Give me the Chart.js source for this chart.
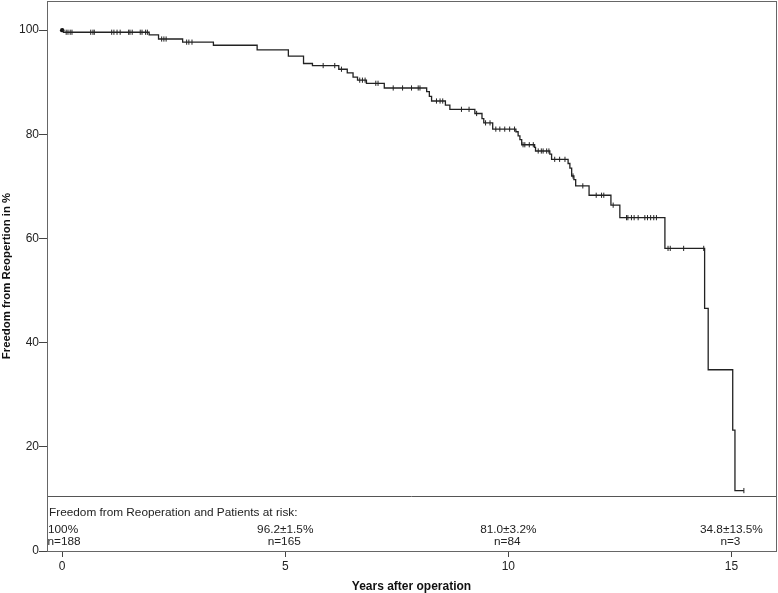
<!DOCTYPE html>
<html>
<head>
<meta charset="utf-8">
<script src="https://cdn.jsdelivr.net/npm/chart.js@4.4.1/dist/chart.umd.min.js"></script>
<style>
  html, body { margin: 0; padding: 0; background: #fff; }
  #wrap { width: 778px; height: 593px; }
</style>
</head>
<body>
<div id="wrap"><canvas id="km" width="778" height="593"></canvas></div>
<script>
// Kaplan-Meier step curve: time (years) and freedom from reoperation (%) after each event
var years = [0, 0.03, 1.95, 2.16, 2.70, 3.39, 4.37, 5.07, 5.41, 5.61, 6.20, 6.39, 6.52, 6.62, 6.82, 7.22,
  8.17, 8.23, 8.28, 8.59, 8.69, 9.25, 9.41, 9.45, 9.65, 10.17, 10.22, 10.26, 10.30, 10.59, 10.61,
  10.93, 10.97, 11.34, 11.38, 11.42, 11.47, 11.51, 11.81, 12.30, 12.50, 13.51, 14.40, 14.48,
  15.03, 15.08, 15.28];
var freedom = [100, 99.6, 99.1, 98.3, 97.7, 97.1, 96.2, 95.0, 93.6, 93.2, 92.5, 91.8, 91.0, 90.4, 89.8, 88.9,
  88.2, 87.3, 86.4, 85.6, 84.8, 84.0, 83.0, 82.2, 81.0, 80.5, 79.7, 79.0, 78.0, 77.5, 76.8,
  76.2, 75.2, 74.4, 73.5, 72.0, 71.3, 70.1, 68.3, 66.4, 64.0, 58.1, 46.6, 34.8,
  23.2, 11.6, 11.6];

// censored patients
var censorYears = [0.09, 0.13, 0.18, 0.22, 0.64, 0.69, 0.72, 1.11, 1.16, 1.23, 1.30, 1.49, 1.52, 1.57, 1.75, 1.79, 1.87, 1.91,
  2.23, 2.28, 2.33, 2.79, 2.84, 2.91, 5.85, 6.11, 6.26, 6.67, 6.73, 6.79, 7.03, 7.08,
  7.42, 7.63, 7.83, 7.98, 8.02, 8.39, 8.47, 8.53, 8.95, 9.12, 9.29, 9.49, 9.59,
  9.72, 9.81, 9.92, 10.03, 10.14, 10.33, 10.37, 10.47, 10.56, 10.67, 10.74, 10.78, 10.86, 10.91,
  11.04, 11.15, 11.27, 11.45, 11.67, 11.97, 12.09, 12.14, 12.35,
  12.65, 12.68, 12.76, 12.82, 12.91, 13.06, 13.12, 13.19, 13.26, 13.32,
  13.58, 13.63, 13.93, 14.38, 15.28];
var censorFreedom = [99.6, 99.6, 99.6, 99.6, 99.6, 99.6, 99.6, 99.6, 99.6, 99.6, 99.6, 99.6, 99.6, 99.6, 99.6, 99.6, 99.6, 99.6,
  98.3, 98.3, 98.3, 97.7, 97.7, 97.7, 93.2, 93.2, 92.5, 90.4, 90.4, 90.4, 89.8, 89.8,
  88.9, 88.9, 88.9, 88.9, 88.9, 86.4, 86.4, 86.4, 84.8, 84.8, 84.0, 82.2, 82.2,
  81.0, 81.0, 81.0, 81.0, 81.0, 78.0, 78.0, 78.0, 78.0, 76.8, 76.8, 76.8, 76.8, 76.8,
  75.2, 75.2, 75.2, 72.0, 70.1, 68.3, 68.3, 68.3, 66.4,
  64.0, 64.0, 64.0, 64.0, 64.0, 64.0, 64.0, 64.0, 64.0, 64.0,
  58.1, 58.1, 58.1, 58.1, 11.6];

var xTickValues = [0, 5, 10, 15];
var yTickValues = [0, 20, 40, 60, 80, 100];

// patients at risk table
var tableTitle = 'Freedom from Reoperation and Patients at risk:';
var riskYears = [0, 5, 10, 15];
var riskFreedom = ['100%', '96.2\u00b11.5%', '81.0\u00b13.2%', '34.8\u00b113.5%'];
var riskN = ['n=188', 'n=165', 'n=84', 'n=3'];

var curve = years.map(function(t, i){ return {x: t, y: freedom[i]}; });
var censored = censorYears.map(function(t, i){ return {x: t, y: censorFreedom[i]}; });

var FONT = '"Liberation Sans", Arial, sans-serif';

var riskTable = {
  id: 'riskTable',
  afterDraw: function(chart){
    var ctx = chart.ctx, a = chart.chartArea;
    var xs = chart.scales.x, ys = chart.scales.y;
    var lineY = Math.round(ys.getPixelForValue(10.6)) + 0.5;
    ctx.save();
    ctx.strokeStyle = '#555';
    ctx.lineWidth = 1;
    ctx.beginPath();
    ctx.moveTo(a.left, lineY);
    ctx.lineTo(a.right, lineY);
    ctx.stroke();
    // frame
    ctx.strokeStyle = '#666';
    ctx.strokeRect(Math.round(a.left) + 0.5, Math.round(a.top) + 0.5, Math.round(a.right - a.left), Math.round(a.bottom - a.top));

    ctx.fillStyle = '#222';
    ctx.font = '11.8px ' + FONT;
    ctx.textBaseline = 'middle';
    ctx.textAlign = 'left';
    ctx.fillText(tableTitle, a.left + 2, lineY + 16);
    riskYears.forEach(function(t, i){
      var px = xs.getPixelForValue(t);
      if (i === 0) {
        ctx.textAlign = 'left';
        ctx.fillText(riskFreedom[i], a.left + 1, lineY + 33);
        ctx.fillText(riskN[i], a.left + 0.5, lineY + 45);
      } else {
        ctx.textAlign = 'center';
        ctx.fillText(riskFreedom[i], px, lineY + 33);
        ctx.fillText(riskN[i], px - 1, lineY + 45);
      }
    });
    ctx.restore();
  }
};

new Chart(document.getElementById('km'), {
  type: 'scatter',
  data: {
    datasets: [
      {
        data: curve,
        showLine: true,
        stepped: true,
        borderColor: '#222',
        borderWidth: 1.3,
        pointRadius: 0,
        fill: false
      },
      {
        data: censored,
        showLine: false,
        pointStyle: 'line',
        rotation: 90,
        pointRadius: 2.6,
        borderColor: '#222',
        borderWidth: 1,
        pointHoverRadius: 0
      },
      {
        data: [{x: 0, y: 100}],
        showLine: false,
        pointStyle: 'circle',
        pointRadius: 2.2,
        backgroundColor: '#111',
        borderColor: '#111',
        borderWidth: 0
      }
    ]
  },
  options: {
    responsive: false,
    animation: false,
    events: [],
    layout: { autoPadding: false, padding: { left: 0, top: 1, right: 2, bottom: 0 } },
    plugins: { legend: { display: false }, tooltip: { enabled: false } },
    scales: {
      x: {
        type: 'linear',
        min: -0.34,
        max: 16.0,
        afterFit: function(s){ s.height = 42; s.paddingLeft = 0; s.paddingRight = 0; },
        afterBuildTicks: function(s){ s.ticks = xTickValues.map(function(v){ return {value: v}; }); },
        border: { display: true, color: '#666', width: 1 },
        grid: { drawOnChartArea: false, tickLength: 6, color: '#444', tickColor: '#444' },
        ticks: { color: '#222', padding: 2, font: { family: FONT, size: 12 }, maxRotation: 0 },
        title: {
          display: true,
          text: 'Years after operation',
          color: '#111',
          padding: { top: 0, bottom: 0 },
          font: { family: FONT, size: 12, weight: 'bold', lineHeight: 1 }
        }
      },
      y: {
        type: 'linear',
        min: 0,
        max: 105.6,
        afterFit: function(s){ s.width = 47; s.paddingTop = 0; s.paddingBottom = 0; },
        afterBuildTicks: function(s){ s.ticks = yTickValues.map(function(v){ return {value: v}; }); },
        border: { display: true, color: '#666', width: 1 },
        grid: { drawOnChartArea: false, tickLength: 8, color: '#444', tickColor: '#444' },
        ticks: { color: '#222', padding: 0, font: { family: FONT, size: 12 } },
        title: {
          display: true,
          text: 'Freedom from Reopertion in %',
          color: '#111',
          padding: { top: 1, bottom: 0 },
          font: { family: FONT, size: 11.4, weight: 'bold', lineHeight: 1 }
        }
      }
    }
  },
  plugins: [riskTable]
});
</script>
</body>
</html>
